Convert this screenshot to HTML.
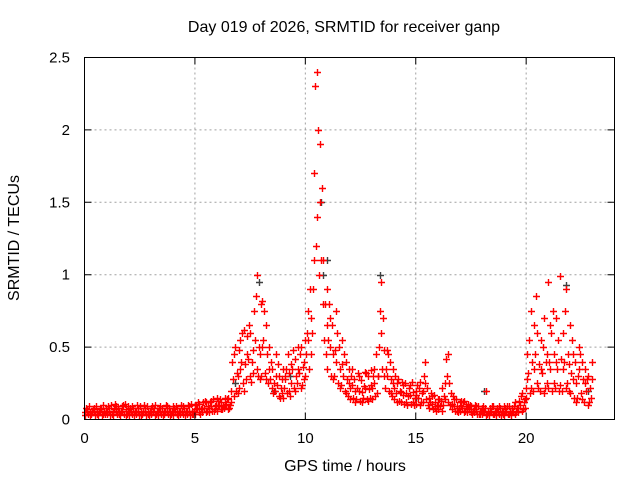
<!DOCTYPE html>
<html><head><meta charset="utf-8"><style>
body{margin:0;background:#fff;}
svg{display:block;font-family:"Liberation Sans",sans-serif;}
</style></head><body>
<svg id="chart" width="640" height="480" viewBox="0 0 640 480">
<rect width="640" height="480" fill="#fff"/>
<g id="grid"></g>
<g id="series"></g>
<rect x="84.5" y="57.5" width="530" height="362" fill="none" stroke="#000" stroke-width="1"/>
<g id="axes"></g>
<text x="344" y="32" font-size="16" text-anchor="middle">Day 019 of 2026, SRMTID for receiver ganp</text>
<text x="345" y="471" font-size="16" text-anchor="middle">GPS time / hours</text>
<text transform="translate(19,238) rotate(-90)" font-size="16" text-anchor="middle">SRMTID / TECUs</text>
</svg>
<script>
const xTicks=[0,5,10,15,20];
const yTicks=[0,0.5,1,1.5,2,2.5];
const yTickLabels=["0","0.5","1","1.5","2","2.5"];
const lo=[3,4,3,4,3,4,3,3,4,4, 4,3,4,3,4,4,3,4,3,4, 3,4,3,4,3,3,4,3,4,3, 4,3,4,3,4,3,4,4,3,4, 3,4,3,4,4,3,4,3,4,4,
4,5,4,5,5,6,5,6,6,7, 6,7,7,8,7,8,12,16,20,18, 22,25,20,28,30,26,32,35,30,28, 30,32,28,25,22,18,20,16,15,18, 15,18,20,16,22,20,25,22,24,28,
30,35,45,60,120,140,100,80,55,45, 35,30,28,30,25,22,24,20,18,16, 14,15,12,14,13,12,15,14,13,15, 14,16,18,30,35,30,22,20,18,16, 14,12,13,12,11,12,10,11,12,10,
11,10,12,12,14,10,8,7,8,6, 7,6,10,14,12,10,7,6,6,5, 6,5,6,5,5,4,5,4,4,4, 4,3,4,3,4,4,3,4,3,4, 3,4,4,3,4,5,5,6,7,8,
15,18,22,20,25,22,20,18,22,25, 22,20,25,22,20,24,20,22,25,20, 18,15,12,15,18,14,12,10,12,15];
const mid=[5,6,5,5,6,5,6,5,6,5, 6,5,6,7,5,6,5,6,7,6, 5,6,5,6,5,5,6,5,6,5, 6,5,6,5,6,5,6,6,5,6, 5,6,5,6,6,5,6,5,6,6,
7,8,7,8,8,9,8,9,9,10, 9,10,9,10,11,10,20,28,32,30, 35,40,38,45,42,40,48,55,50,45, 50,55,45,35,28,25,30,24,22,28, 22,28,32,25,35,30,35,32,36,40,
45,55,70,90,170,200,150,110,80,65, 55,50,45,48,40,35,38,30,28,25, 22,24,20,22,20,19,23,22,21,24, 22,25,30,50,60,48,35,30,28,25, 22,18,20,19,17,18,16,17,19,15,
17,15,18,20,25,15,12,11,12,9, 10,9,16,25,30,18,11,9,9,8, 9,8,9,8,7,6,7,6,6,6, 6,5,6,5,6,6,5,6,5,6, 5,6,6,5,6,8,8,10,12,14,
28,32,40,35,45,38,35,32,40,45, 40,35,45,40,35,42,35,40,45,38, 32,28,25,30,35,28,25,20,22,28];
const hi=[8,7,9,7,8,9,7,8,10,8, 9,8,10,11,9,8,9,10,11,9, 8,9,8,10,8,9,10,8,9,8, 9,8,10,8,9,8,10,9,8,9, 8,9,8,10,9,8,10,9,11,10,
10,12,11,12,13,12,12,13,14,15, 13,14,12,15,14,15,40,45,50,48, 55,60,62,58,65,60,75,85,100,80, 82,75,65,50,40,35,45,38,30,35, 30,35,45,38,48,42,50,45,50,55,
60,75,90,110,230,240,190,160,110,90, 80,70,65,75,60,50,55,45,40,35, 30,35,28,32,30,27,33,32,30,34, 30,35,45,75,95,70,48,45,40,35, 30,25,28,26,24,25,22,24,26,20,
24,22,26,30,40,22,18,16,17,14, 14,13,22,42,45,25,16,14,14,12, 13,12,13,11,10,9,10,9,9,8, 9,8,20,8,9,9,8,9,8,9, 8,9,9,8,9,12,13,16,18,22,
45,55,75,65,85,60,55,50,70,95, 65,60,75,70,55,99,60,75,90,65, 55,45,40,50,45,40,35,28,30,40];
const grayT=[7.9,10.7,10.8,11.0,13.4,21.8,6.8,8.6,15.0,22.8,18.1,9.3];
const grayV=[0.95,1.5,1.0,1.1,1.0,0.93,0.25,0.2,0.15,0.2,0.2,0.3];

const NS="http://www.w3.org/2000/svg";
const L=84.5,R=614.5,T=57.5,B=419.5;
const xs=v=>L+(v/24)*(R-L);
const ys=v=>B-(v/2.5)*(B-T);
const grid=document.getElementById('grid'),axes=document.getElementById('axes'),ser=document.getElementById('series');
function mk(tag,attrs,parent){const e=document.createElementNS(NS,tag);for(const k in attrs)e.setAttribute(k,attrs[k]);parent.appendChild(e);return e;}
xTicks.forEach(t=>{
  const x=xs(t);
  if(t>0){const g=mk('line',{x1:x,x2:x,y1:T,y2:B,stroke:'#a0a0a0','stroke-dasharray':'2,3'},grid);
  
  }
  const tk=mk('path',{d:`M${x} ${B}v-7M${x} ${T}v7`,stroke:'#000'},axes);
  
  
  const tl=mk('text',{x:x,y:443,'font-size':15,'text-anchor':'middle'},axes);tl.textContent=t;
  
  
});
yTicks.forEach((t,i)=>{
  const y=ys(t);
  if(t>0&&t<2.5){const g=mk('line',{x1:L,x2:R,y1:y,y2:y,stroke:'#a0a0a0','stroke-dasharray':'2,3'},grid);
  
  }
  const tk=mk('path',{d:`M${L} ${y}h7M${R} ${y}h-7`,stroke:'#000'},axes);
  
  
  const tl=mk('text',{x:70,y:y+5,'font-size':15,'text-anchor':'end'},axes);tl.textContent=yTickLabels[i];
  
  
});
function plus(t,v,color,name){
  const x=Math.round(xs(t))+0.5,y=Math.round(ys(v))+0.5;
  const p=mk('path',{d:`M${x-3.5} ${y}h7M${x} ${y-3.5}v7`,stroke:color,'stroke-width':1.4},ser);
  
  
}
grayT.forEach((t,i)=>plus(t,grayV[i],'#404040','gray-point'));
[lo,mid,hi].forEach((arr,k)=>arr.forEach((v,i)=>plus(i*0.1+((i*7+k*3)%10)/100,v/100,'#ff0000','red-point')));
</script>
</body></html>
